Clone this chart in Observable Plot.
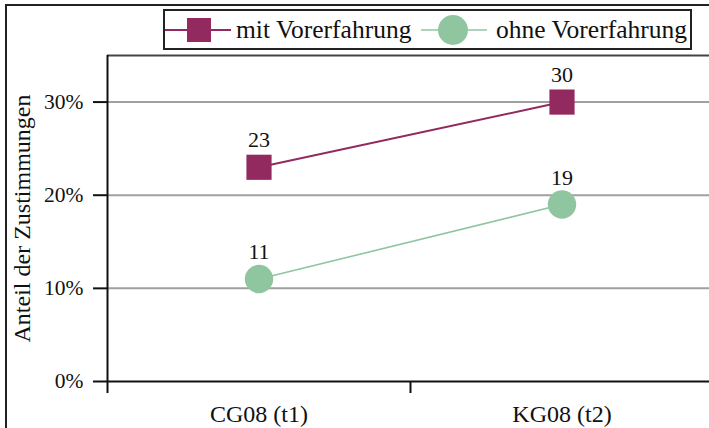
<!DOCTYPE html>
<html>
<head>
<meta charset="utf-8">
<script src="https://cdn.jsdelivr.net/npm/d3@7"></script>
<script src="https://cdn.jsdelivr.net/npm/@observablehq/plot@0.6"></script>
<style>
  html, body { margin: 0; padding: 0; background: #fff; overflow: hidden; }
  #wrap { position: relative; width: 709px; height: 428px; font-family: "Liberation Serif", serif; }
  #border { position: absolute; left: 5px; top: 4px; right: -10px; bottom: -10px; border-top: 2.5px solid #222; border-left: 2.5px solid #222; pointer-events: none; }
  #legend { position: absolute; left: 163px; top: 9px; width: 525px; height: 37px; border: 2px solid #222; background: #fff;
            font-size: 25.5px; color: #111; box-sizing: content-box; }
  #legend .item { position: absolute; top: 0; height: 37px; display: flex; align-items: center; white-space: nowrap; }
  #legend svg { display: block; }
</style>
</head>
<body>
<div id="wrap">
  <div id="chart"></div>
  <div id="border"></div>
  <div id="legend"></div>
</div>
<script>
const categories = ["CG08 (t1)", "KG08 (t2)"];
const seriesNames = ["mit Vorerfahrung", "ohne Vorerfahrung"];
const mitValues = [23, 30];
const ohneValues = [11, 19];
const yTicks = [0, 10, 20, 30];
const colors = ["#922a60", "#8fc6a0"];
const symbols = ["square", "circle"];

const rows = [];
[mitValues, ohneValues].forEach((vals, s) => {
  vals.forEach((v, i) => rows.push({series: seriesNames[s], cat: categories[i], pos: i + 0.5, value: v}));
});
const boundaries = categories.map((c, i) => i).concat([categories.length]);
const centers = categories.map((c, i) => i + 0.5);

const marks = [
  Plot.ruleY(yTicks.filter(d => d > 0), {stroke: "#a0a0a0", strokeWidth: 2}),
  Plot.ruleY([35], {stroke: "#444", strokeWidth: 2}),
  Plot.axisY({ticks: yTicks, tickFormat: d => d + "%", tickSize: 14, tickPadding: 10, strokeWidth: 2, stroke: "#111", fill: "#111",
    fontSize: 21.5, label: null}),
  Plot.axisY({ticks: [], label: "Anteil der Zustimmungen", labelAnchor: "center", labelArrow: "none", labelOffset: 95, fontSize: 24, fill: "#111"}),
  Plot.axisX(boundaries, {tickSize: 12, tickFormat: () => "", strokeWidth: 2, stroke: "#111", label: null}),
  Plot.axisX(centers, {tickSize: 0, tickPadding: 23, tickFormat: d => categories[Math.floor(d)], fill: "#111", fontSize: 24, label: null}),
  Plot.ruleX([0], {stroke: "#111", strokeWidth: 2}),
  Plot.ruleY([0], {stroke: "#111", strokeWidth: 2}),
];
seriesNames.forEach((name, s) => {
  const data = rows.filter(d => d.series === name);
  marks.push(Plot.line(data, {x: "pos", y: "value", stroke: colors[s], strokeWidth: s === 0 ? 2 : 1.6}));
  marks.push(Plot.dot(data, {x: "pos", y: "value", fill: colors[s], symbol: symbols[s], r: 14.2, stroke: "none"}));
  marks.push(Plot.text(data, {x: "pos", y: "value", text: d => String(d.value), dy: -20, lineAnchor: "bottom", fill: "#111", fontSize: 22}));
});

const chart = Plot.plot({
  width: 709,
  height: 428,
  marginTop: 55,
  marginBottom: 47,
  marginLeft: 107,
  marginRight: -4,
  style: {fontFamily: "'Liberation Serif', serif", fontSize: "22px"},
  x: {domain: [0, categories.length], axis: null},
  y: {domain: [0, 35], axis: null},
  marks
});
document.getElementById("chart").appendChild(chart);

// legend
const legend = document.getElementById("legend");
const itemLefts = [0, 256];
seriesNames.forEach((name, s) => {
  const item = document.createElement("div");
  item.className = "item";
  item.style.left = itemLefts[s] + "px";
  const sw = d3.create("svg").attr("width", 66).attr("height", 37);
  sw.append("line").attr("x1", 0).attr("x2", 66).attr("y1", 19).attr("y2", 19)
    .attr("stroke", colors[s]).attr("stroke-width", s === 0 ? 2 : 1.6);
  if (symbols[s] === "square") {
    sw.append("rect").attr("x", 34 - 12).attr("y", 19 - 12).attr("width", 24).attr("height", 24).attr("fill", colors[s]);
  } else {
    sw.append("circle").attr("cx", 32).attr("cy", 19).attr("r", 15).attr("fill", colors[s]);
  }
  item.appendChild(sw.node());
  const t = document.createElement("span");
  t.textContent = name;
  t.style.marginLeft = s === 0 ? "5px" : "9px";
  item.appendChild(t);
  legend.appendChild(item);
});
</script>
</body>
</html>
